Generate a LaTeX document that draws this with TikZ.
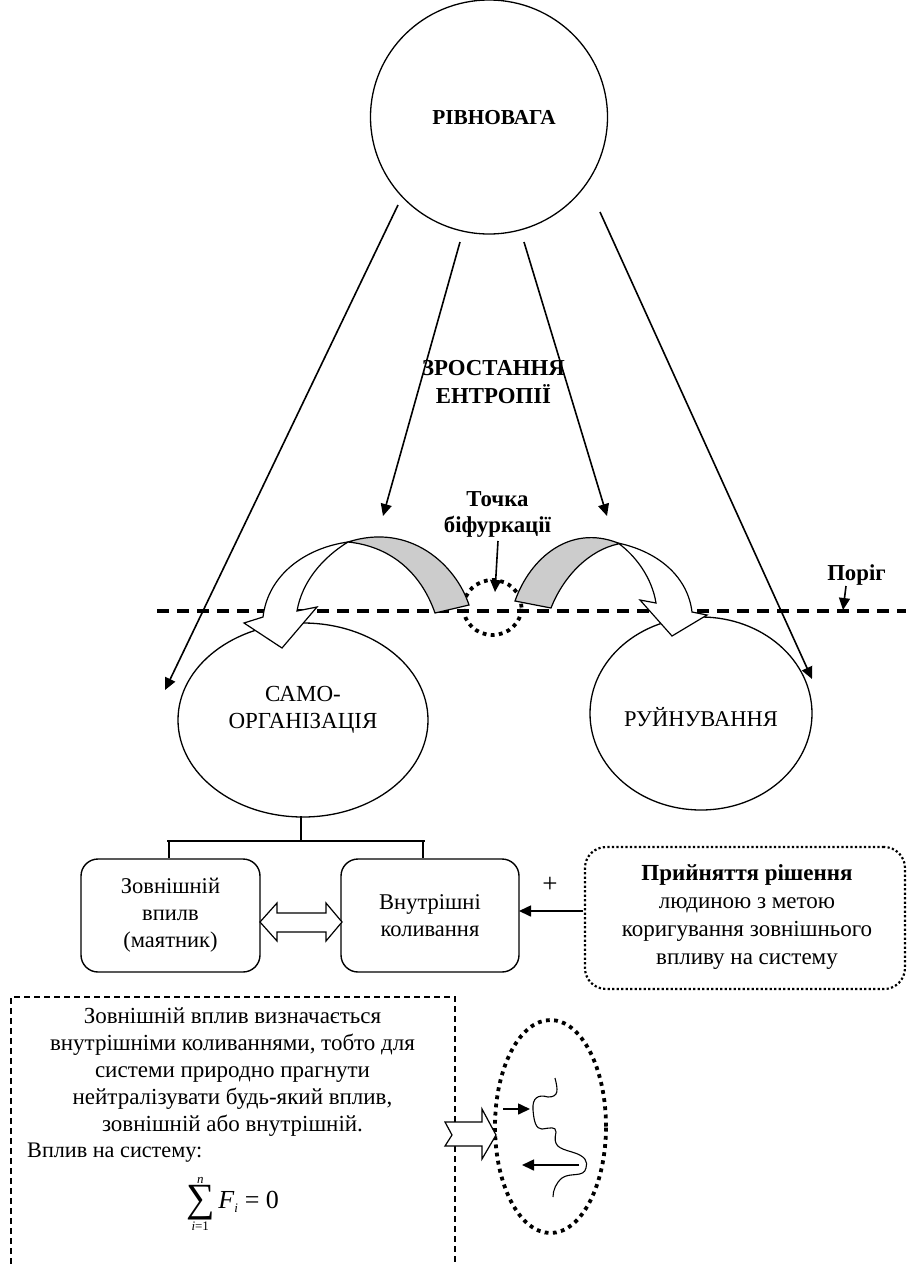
\documentclass[tikz,border=0pt]{standalone}
\usepackage{fix-cm}
\usepackage{fontspec}
\setmainfont{Liberation Serif}
\usetikzlibrary{arrows.meta,shapes.geometric}
\DeclareMathSizes{23}{23}{13}{10}
\newcommand{\smalltxt}[1]{\mbox{\fontsize{13}{13}\selectfont #1}}
\newcommand{\bigsum}{\mathop{\vcenter{\hbox{\fontsize{40}{40}\selectfont ∑}}}\limits}
\tikzset{
  x=1pt,y=-1pt,
  line/.style={draw=black,line width=1.3pt},
  arr/.style={draw=black,line width=1.6pt,-{Triangle[length=12pt,width=11pt]}},
  ell/.style={ellipse,draw=black,line width=1.3pt,inner sep=0pt,align=center,font=\fontsize{22.5}{27}\selectfont},
  roundbox/.style={draw=black,line width=1.4pt,rounded corners=17pt,inner sep=0pt,align=center,font=\fontsize{22.5}{27}\selectfont},
  lbl/.style={align=center,inner sep=0pt,font=\fontsize{23}{27}\selectfont},
  blbl/.style={align=center,inner sep=0pt,font=\fontsize{22.8}{28}\selectfont\bfseries},
  bigdots/.style={draw=black,line width=3.8pt,dash pattern=on 3.8pt off 4.4pt},
  finedots/.style={draw=black,line width=2.2pt,dash pattern=on 2.2pt off 2.3pt},
  threshold/.style={draw=black,line width=3.3pt,dash pattern=on 12pt off 8pt},
  thindash/.style={draw=black,line width=1.1pt,dash pattern=on 6pt off 4pt},
  block/.style={draw=black,line width=1.2pt,fill=white,line join=miter},
  band/.style={draw=black,line width=1.2pt,fill=black!20},
}
\begin{document}
\begin{tikzpicture}
\useasboundingbox (0,0) rectangle (906,1264);
\fill[white] (0,0) rectangle (906,1264);
% main ellipses
\node[ell,minimum width=237pt,minimum height=234pt] (eq) at (489,117) {};
\node[blbl,font=\fontsize{21.3}{26}\selectfont\bfseries] (eqt) at (494,118) {РІВНОВАГА};
\node[ell,minimum width=250pt,minimum height=194pt] (self) at (303,720) {};
\node[lbl] (selft) at (303,710) {САМО-\\ОРГАНІЗАЦІЯ};
\node[ell,minimum width=222pt,minimum height=193pt] (ruin) at (701,713.5) {};
\node[lbl,font=\fontsize{22.5}{27}\selectfont] (ruint) at (701,717) {РУЙНУВАННЯ};
% threshold and bifurcation
\coordinate (thA) at (157,611);
\coordinate (thB) at (906,611);
\draw[threshold] (thA) -- (thB);
\node[ellipse,minimum width=58pt,minimum height=55pt,inner sep=0pt,bigdots] (bif) at (492.5,607.5) {};
% labels
\node[blbl] (growth) at (493.5,382.5) {ЗРОСТАННЯ\\ЕНТРОПІЇ};
\node[blbl,font=\fontsize{22.8}{26}\selectfont\bfseries] (point) at (497.5,514) {Точка\\біфуркації};
\node[blbl] (por) at (856.5,575) {Поріг};
% main arrows
\coordinate (a1s) at (398,205); \coordinate (a1e) at (165,690);
\coordinate (a2s) at (460,242); \coordinate (a2e) at (383,516);
\coordinate (a3s) at (524,242); \coordinate (a3e) at (607,516);
\coordinate (a4s) at (600,212); \coordinate (a4e) at (812,679);
\draw[arr] (a1s) -- (a1e);
\draw[arr] (a2s) -- (a2e);
\draw[arr] (a3s) -- (a3e);
\draw[arr] (a4s) -- (a4e);
\coordinate (bifTip) at (495,592);
\coordinate (bifFrom) at (498,541);
\draw[arr] (bifFrom) -- (bifTip);
\coordinate (porTip) at (843,610);
\coordinate (porFrom) at (846,586);
\draw[arr] (porFrom) -- (porTip);
% left curved arrow
\draw[block] (348,542) .. controls (305,548) and (268,575) .. (263,617) -- (244,623) -- (282,648) -- (317,607) -- (297,611) .. controls (302,582) and (322,558) .. (348,542) -- cycle;
\draw[band] (348,542) .. controls (410,522) and (456,565) .. (469,605) -- (435,613) .. controls (420,570) and (388,546) .. (348,542) -- cycle;
% right curved arrow
\draw[block] (618,543) .. controls (660,552) and (688,578) .. (692,612) -- (707,615) -- (672,636) -- (640,600) -- (656,603) .. controls (652,578) and (636,556) .. (618,543) -- cycle;
\draw[band] (618,543) .. controls (570,524) and (530,558) .. (515,601) -- (551,608) .. controls (564,575) and (590,550) .. (618,544) -- cycle;
% boxes
\node[roundbox,minimum width=179pt,minimum height=113pt] (ext) at (170.5,915.5) {Зовнішній\\впилв\\(маятник)};
\node[roundbox,minimum width=178pt,minimum height=113pt] (int) at (430,915.5) {Внутрішні\\коливання};
\coordinate (busL) at (167,841); \coordinate (busR) at (425,841);
\coordinate (busM) at (301,841); \coordinate (stemTop) at (301,816);
\coordinate (stubL) at (169,841); \coordinate (stubR) at (423,841);
\draw[line] (stemTop) -- (busM);
\draw[line] (busL) -- (busR);
\draw[line] (stubL) -- (ext.north -| stubL);
\draw[line] (stubR) -- (int.north -| stubR);
% double arrow
\draw[block] (260,922) -- (277,903) -- (277,913) -- (326,913) -- (326,903) -- (342,922) -- (326,941) -- (326,932) -- (277,932) -- (277,941) -- cycle;
% decision box
\node[finedots,rounded corners=21pt,minimum width=320pt,minimum height=142pt,inner sep=0pt] (dec) at (745,918) {};
\node[lbl,font=\fontsize{23}{28}\selectfont] (dect) at (747,917) {\textbf{Прийняття рішення}\\людиною з метою\\коригування зовнішнього\\впливу на систему};
\node[lbl,font=\fontsize{27}{27}\selectfont] (plus) at (550,885) {+};
\coordinate (decIn) at (583,911);
\coordinate (intIn) at (519,911);
\draw[arr] (decIn) -- (intIn);
% dashed note box
\coordinate (nbl) at (11,1264); \coordinate (ntl) at (11,997);
\coordinate (ntr) at (455,997); \coordinate (nbr) at (455,1264);
\draw[thindash] (nbl) -- (ntl) -- (ntr) -- (nbr);
\node[lbl] (note) at (232.5,1072) {Зовнішній вплив визначається\\внутрішніми коливаннями, тобто для\\системи природно прагнути\\нейтралізувати будь-який вплив,\\зовнішній або внутрішній.};
\node[lbl,font=\fontsize{22.2}{27}\selectfont,anchor=west] (sys) at (27,1153) {Вплив на систему:};
\node[lbl] (formula) at (232.5,1204) {$\bigsum_{\smalltxt{\textit{i}=1}}^{\smalltxt{\textit{n}}}\mbox{\fontsize{26}{26}\selectfont\textit{F}}_{\smalltxt{\textit{i}}}\;\mbox{\fontsize{26}{26}\selectfont =}\;\mbox{\fontsize{26}{26}\selectfont 0}$};
% oscillation ellipse
\node[ellipse,minimum width=111pt,minimum height=213pt,inner sep=0pt,bigdots] (osc) at (550.5,1126.5) {};
\draw[block] (445,1122) -- (482,1122) -- (482,1109) -- (496,1135) -- (482,1159) -- (482,1146) -- (445,1146) -- (452,1135) -- cycle;
\coordinate (w1) at (503,1109); \coordinate (w2) at (530,1109);
\coordinate (w3) at (579,1165); \coordinate (w4) at (522,1165);
\draw[arr] (w1) -- (w2);
\draw[arr] (w3) -- (w4);
\coordinate (waveS) at (555,1078);
\coordinate (waveE) at (553,1197);
\draw[draw=black,line width=1.1pt] (waveS) .. controls (558,1090) and (559,1097) .. (548,1097)
  .. controls (538,1094) and (532,1098) .. (533,1110)
  .. controls (534,1122) and (536,1129) .. (542,1129)
  .. controls (550,1128) and (556,1126) .. (556,1132)
  .. controls (553,1146) and (558,1148) .. (572,1152)
  .. controls (586,1156) and (588,1162) .. (586,1168)
  .. controls (584,1178) and (570,1172) .. (562,1178)
  .. controls (556,1183) and (553,1190) .. (553,1197);
\end{tikzpicture}
\end{document}
